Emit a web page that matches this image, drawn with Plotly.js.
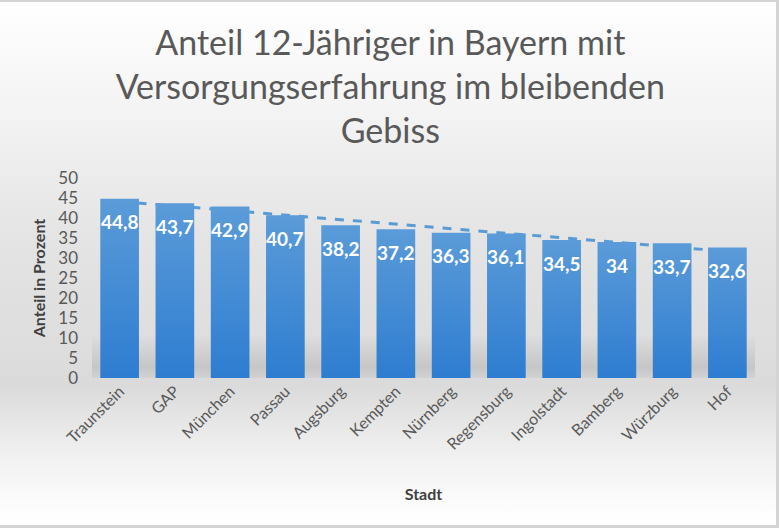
<!DOCTYPE html>
<html>
<head>
<meta charset="utf-8">
<script src="https://cdn.plot.ly/plotly-3.0.1.min.js"></script>
<style>
  html, body { margin: 0; padding: 0; }
  #wrap {
    width: 779px; height: 528px; box-sizing: border-box;
    border-top: 2px solid #d4d4d4; border-right: 3px solid #d4d4d4; border-bottom: 3px solid #d4d4d4;
    background: linear-gradient(to bottom, #ffffff 0%, #f3f3f3 22%, #e4e4e4 45%, #dcdcdc 70%, #dadada 73%, #eeeeee 85%, #fbfbfb 95%, #ffffff 100%);
  }
  #chart { width: 776px; height: 523px; }
</style>
</head>
<body>
<div id="wrap"><div id="chart"></div></div>
<script>
const cities = ["Traunstein", "GAP", "München", "Passau", "Augsburg", "Kempten", "Nürnberg", "Regensburg", "Ingolstadt", "Bamberg", "Würzburg", "Hof"];
const shares = [44.8, 43.7, 42.9, 40.7, 38.2, 37.2, 36.3, 36.1, 34.5, 34, 33.7, 32.6];
const yTicks = [0, 5, 10, 15, 20, 25, 30, 35, 40, 45, 50];
const titleText = "Anteil 12-Jähriger in Bayern mit<br>Versorgungserfahrung im bleibenden<br>Gebiss";
const xTitle = "Stadt";
const yTitle = "Anteil in Prozent";

// linear trendline (least squares) computed from the data
const n = shares.length;
const xs = shares.map((_, i) => i);
const mx = xs.reduce((a, b) => a + b, 0) / n;
const my = shares.reduce((a, b) => a + b, 0) / n;
let sxy = 0, sxx = 0;
for (let i = 0; i < n; i++) { sxy += (xs[i] - mx) * (shares[i] - my); sxx += (xs[i] - mx) ** 2; }
const slope = sxy / sxx, icpt = my - slope * mx;

const fontFam = "Lato, 'Open Sans', sans-serif";
const grey = "#595959";

const shadowSvg = "data:image/svg+xml;charset=utf-8," + encodeURIComponent(
  '<svg xmlns="http://www.w3.org/2000/svg" width="100" height="100" preserveAspectRatio="none">' +
  '<defs><linearGradient id="g" x1="0" y1="0" x2="0" y2="1">' +
  '<stop offset="0" stop-color="#000" stop-opacity="0"/>' +
  '<stop offset="0.75" stop-color="#000" stop-opacity="0.10"/>' +
  '<stop offset="1" stop-color="#000" stop-opacity="0.04"/>' +
  '</linearGradient></defs><rect width="100" height="100" fill="url(#g)"/></svg>');

const trace = {
  type: "bar",
  x: cities,
  y: shares,
  marker: { color: "#4a8fd6" },
  hoverinfo: "x+y"
};

const annotations = cities.map((c, i) => ({
  x: c, y: shares[i], xref: "x", yref: "y",
  text: String(shares[i]).replace(".", ","),
  showarrow: false, yanchor: "middle", yshift: -23,
  font: { family: fontFam, size: 19, color: "#ffffff", weight: "bold" }
}));

const layout = {
  width: 776, height: 523,
  paper_bgcolor: "rgba(0,0,0,0)",
  plot_bgcolor: "rgba(0,0,0,0)",
  margin: { l: 92, r: 21, t: 176, b: 147 },
  bargap: 0.3,
  showlegend: false,
  title: {
    text: titleText,
    font: { family: fontFam, size: 34, color: grey },
    x: 0.503, xanchor: "center", y: 0.899, yanchor: "middle", yref: "container"
  },
  xaxis: {
    tickangle: -45,
    tickfont: { family: fontFam, size: 16, color: grey },
    showgrid: false, showline: false, zeroline: false, ticks: "",
    title: { text: xTitle, font: { family: fontFam, size: 16, color: "#404040", weight: "bold" }, standoff: 36 }
  },
  yaxis: {
    range: [0, 50],
    tickvals: yTicks,
    tickfont: { family: fontFam, size: 17, color: grey },
    showgrid: false, showline: false, zeroline: false, ticks: "",
    ticklabelstandoff: 13,
    title: { text: yTitle, font: { family: fontFam, size: 16, color: "#404040", weight: "bold" }, standoff: 8 }
  },
  shapes: [{
    type: "line", xref: "x", yref: "y", layer: "below",
    x0: 0, y0: icpt, x1: n - 1, y1: icpt + slope * (n - 1),
    line: { color: "#5b9bd5", width: 3, dash: "dash" }
  }],
  images: [{
    source: shadowSvg, xref: "paper", yref: "y", x: 0, y: 11, sizex: 1, sizey: 11,
    sizing: "stretch", layer: "below", xanchor: "left", yanchor: "top"
  }],
  annotations: annotations
};

Plotly.newPlot("chart", [trace], layout, { displayModeBar: false, staticPlot: true }).then(gd => {
  const svg = gd.querySelector(".main-svg");
  const defs = svg.querySelector("defs");
  const NS = "http://www.w3.org/2000/svg";
  const lg = document.createElementNS(NS, "linearGradient");
  lg.setAttribute("id", "barGrad");
  lg.setAttribute("x1", "0"); lg.setAttribute("y1", "0");
  lg.setAttribute("x2", "0"); lg.setAttribute("y2", "1");
  [["0", "#5b9bd8"], ["1", "#2e7dd1"]].forEach(([o, c]) => {
    const s = document.createElementNS(NS, "stop");
    s.setAttribute("offset", o); s.setAttribute("stop-color", c);
    lg.appendChild(s);
  });
  defs.appendChild(lg);
  gd.querySelectorAll(".bars .point path").forEach(p => { p.style.fill = "url(#barGrad)"; });
});
</script>
</body>
</html>
